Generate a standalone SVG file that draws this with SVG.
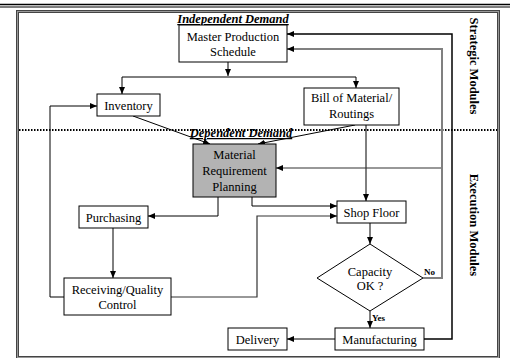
<svg xmlns="http://www.w3.org/2000/svg" width="510" height="358" viewBox="0 0 510 358">
<style>
.box{fill:#fff;stroke:#000;stroke-width:1}
.t{font-family:"Liberation Serif","Times New Roman",serif;font-size:12.5px;text-anchor:middle;fill:#000}
.lbl{font-family:"Liberation Serif","Times New Roman",serif;font-size:12.5px;font-weight:bold;font-style:italic;text-anchor:middle;text-decoration:underline;fill:#000}
.side{font-family:"Liberation Serif","Times New Roman",serif;font-size:12.5px;font-weight:bold;text-anchor:middle;fill:#000}
.small{font-family:"Liberation Serif","Times New Roman",serif;font-size:9px;font-weight:bold;fill:#000}
.c{fill:none;stroke:#000;stroke-width:1}
.d{fill:none;stroke:#333;stroke-width:1.2}
.g{fill:none;stroke:#808080;stroke-width:2}
</style>
<defs>
<marker id="ah" markerUnits="userSpaceOnUse" markerWidth="8" markerHeight="7" refX="7" refY="3" orient="auto">
<path d="M0,0 L7,3 L0,6 z" fill="#000"/>
</marker>
</defs>
<!-- top rules and frame -->
<line x1="0" y1="4.5" x2="510" y2="4.5" stroke="#000" stroke-width="1.3"/>
<line x1="0" y1="7" x2="510" y2="7" stroke="#000" stroke-width="1.2"/>
<rect x="17.5" y="11.5" width="481" height="346" fill="none" stroke="#444" stroke-width="3"/>
<rect x="17.5" y="11.5" width="481" height="346" fill="none" stroke="#999" stroke-width="1"/>
<line x1="19" y1="130" x2="497" y2="130" stroke="#000" stroke-width="2" stroke-dasharray="1.5 1.5"/>
<text class="side" transform="translate(470,66) rotate(90)">Strategic Modules</text>
<text class="side" transform="translate(470,225) rotate(90)">Execution Modules</text>
<text class="lbl" x="233" y="23">Independent Demand</text>
<text class="lbl" x="241" y="137">Dependent Demand</text>

<g id="connectors">
<line class="c" x1="228" y1="62" x2="228" y2="76" marker-end="url(#ah)"/>
<line class="c" x1="122" y1="77" x2="356" y2="77"/>
<line class="c" x1="122" y1="77" x2="122" y2="94" marker-end="url(#ah)"/>
<line class="c" x1="356" y1="77" x2="356" y2="88" marker-end="url(#ah)"/>
<line class="c" x1="133" y1="116" x2="210" y2="144" marker-end="url(#ah)"/>
<line class="c" x1="355" y1="125" x2="258" y2="144" marker-end="url(#ah)"/>
<line class="c" x1="366" y1="125" x2="366" y2="201" marker-end="url(#ah)"/>
<polyline class="c" points="218,197 218,216 148,216" marker-end="url(#ah)"/>
<polyline class="c" points="252,197 252,206 337,206" marker-end="url(#ah)"/>
<line class="c" x1="113" y1="228" x2="113" y2="278" marker-end="url(#ah)"/>
<polyline class="c" points="64,297 50,297 50,106 97,106" marker-end="url(#ah)"/>
<polyline class="d" points="171,297 257,297 257,216 337,216" marker-end="url(#ah)"/>
<line class="c" x1="370" y1="223" x2="370" y2="244" marker-end="url(#ah)"/>
<line class="c" x1="370" y1="311" x2="370" y2="328" marker-end="url(#ah)"/>
<polyline class="g" points="423,278 442,278 442,49 294,49"/>
<line class="c" x1="294" y1="49" x2="287" y2="49" marker-end="url(#ah)"/>
<line class="d" x1="441" y1="168" x2="276" y2="168" marker-end="url(#ah)"/>
<polyline class="c" style="stroke-width:1.5" points="424,339 452,339 452,34 287,34" marker-end="url(#ah)"/>
<line class="c" x1="335" y1="339" x2="287" y2="339" marker-end="url(#ah)"/>
<text class="small" x="424" y="275">No</text>
<text class="small" x="372" y="321">Yes</text>
</g>

<g id="mps"><rect class="box" x="179" y="25" width="108" height="37"/>
<text class="t" x="233" y="41">Master Production</text><text class="t" x="233" y="56">Schedule</text></g>
<g id="inventory"><rect class="box" x="97" y="94" width="63" height="22"/>
<text class="t" x="128.5" y="110">Inventory</text></g>
<g id="bom"><rect class="box" x="304" y="88" width="95" height="37"/>
<text class="t" x="351.5" y="102">Bill of Material/</text><text class="t" x="351.5" y="118">Routings</text></g>
<g id="mrp"><rect x="193" y="144" width="83" height="53" fill="#b3b3b3" stroke="#000" stroke-width="1"/>
<text class="t" x="234.5" y="159">Material</text><text class="t" x="234.5" y="175">Requirement</text><text class="t" x="234.5" y="191">Planning</text></g>
<g id="purchasing"><rect class="box" x="79" y="206" width="69" height="22"/>
<text class="t" x="113.5" y="222">Purchasing</text></g>
<g id="shopfloor"><rect class="box" x="337" y="201" width="69" height="22"/>
<text class="t" x="371.5" y="216.5">Shop Floor</text></g>
<g id="rqc"><rect class="box" x="64" y="278" width="107" height="37"/>
<text class="t" x="117.5" y="294">Receiving/Quality</text><text class="t" x="117.5" y="309">Control</text></g>
<g id="capacity"><polygon class="box" points="370,244 423,278 370,311 317,278"/>
<text class="t" x="370" y="276">Capacity</text><text class="t" x="370" y="290">OK ?</text></g>
<g id="manufacturing"><rect class="box" x="335" y="328" width="89" height="22"/>
<text class="t" x="379.5" y="343.5">Manufacturing</text></g>
<g id="delivery"><rect class="box" x="228" y="328" width="59" height="22"/>
<text class="t" x="257.5" y="343.5">Delivery</text></g>
</svg>
